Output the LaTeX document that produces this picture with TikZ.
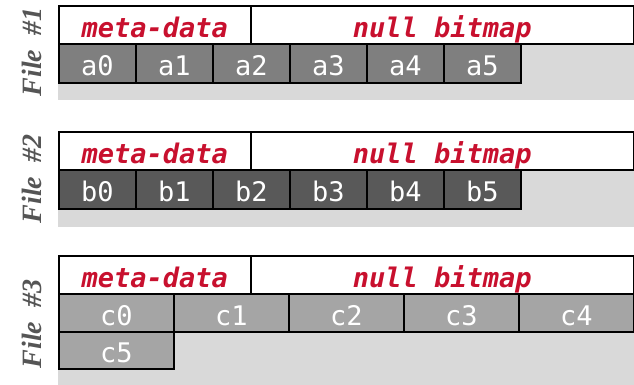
\documentclass[tikz,border=0pt]{standalone}
\usepackage{fontspec}
\setmonofont{DejaVu Sans Mono}
\newfontfamily\labelfont{Liberation Serif}
\definecolor{cellA}{HTML}{7F7F7F}
\definecolor{cellB}{HTML}{595959}
\definecolor{cellC}{HTML}{A5A5A5}
\definecolor{padgray}{HTML}{D9D9D9}
\definecolor{hdrred}{HTML}{C8102E}
\definecolor{filegray}{HTML}{555555}
\begin{document}
\begin{tikzpicture}[x=1pt,y=-1pt,
  hdr/.style={draw=black,line width=1.6pt,fill=white,anchor=north west,inner sep=0pt,
    text height=27pt,text depth=2pt,
    text=hdrred,font=\ttfamily\bfseries\itshape\fontsize{27}{27}\selectfont},
  cell/.style={draw=black,line width=1.6pt,anchor=north west,inner sep=0pt,
    text height=27pt,text depth=2pt,
    text=white,font=\ttfamily\fontsize{27}{27}\selectfont},
  pad/.style={fill=padgray},
  filelbl/.style={rotate=90,text=filegray,font=\labelfont\bfseries\itshape\fontsize{28}{28}\selectfont}]
\useasboundingbox (0,0) rectangle (634,385);
% ---------- File 1
\fill[pad] (58,43) rectangle (634,100);
\node[hdr,minimum width=192pt,minimum height=38pt] (m1) at (58,5) {meta-data};
\node[hdr,minimum width=383pt,minimum height=38pt] (n1) at (250,5) {null bitmap};
\foreach \i in {0,...,5}{
  \node[cell,fill=cellA,minimum width=77pt,minimum height=39pt] (a\i) at ({58+77*\i},43) {a\i};
}
\node[filelbl] (f1) at (32,52) {File\ \ \#1};
% ---------- File 2
\fill[pad] (58,169) rectangle (634,227);
\node[hdr,minimum width=192pt,minimum height=38pt] (m2) at (58,131) {meta-data};
\node[hdr,minimum width=383pt,minimum height=38pt] (n2) at (250,131) {null bitmap};
\foreach \i in {0,...,5}{
  \node[cell,fill=cellB,minimum width=77pt,minimum height=39pt] (b\i) at ({58+77*\i},169) {b\i};
}
\node[filelbl] (f2) at (32,179) {File\ \ \#2};
% ---------- File 3
\fill[pad] (58,293) rectangle (634,385);
\node[hdr,minimum width=192pt,minimum height=38pt] (m3) at (58,255) {meta-data};
\node[hdr,minimum width=383pt,minimum height=38pt] (n3) at (250,255) {null bitmap};
\foreach \i in {0,...,4}{
  \node[cell,fill=cellC,minimum width=115pt,minimum height=38pt] (c\i) at ({58+115*\i},293) {c\i};
}
\node[cell,fill=cellC,minimum width=115pt,minimum height=37pt] (c5) at (58,331) {c5};
\node[filelbl] (f3) at (32,324) {File\ \ \#3};
\end{tikzpicture}
\end{document}
